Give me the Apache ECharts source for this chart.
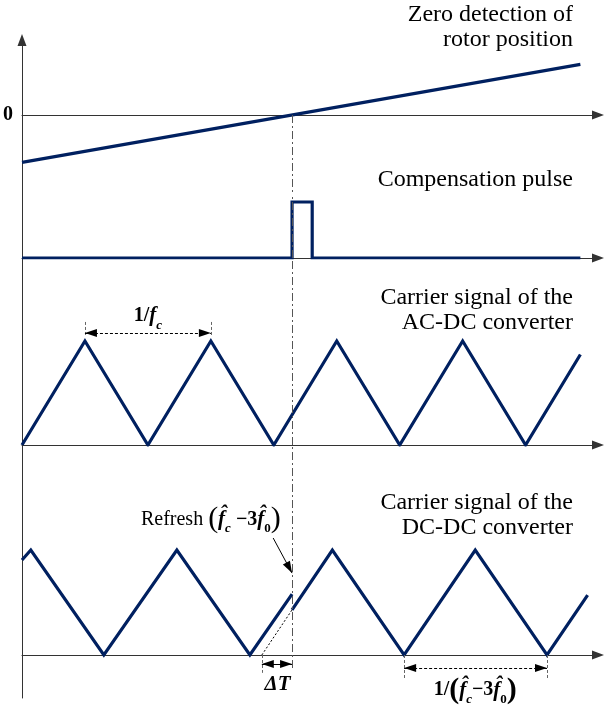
<!DOCTYPE html>
<html>
<head>
<meta charset="utf-8">
<script src="https://cdn.jsdelivr.net/npm/echarts@6/dist/echarts.min.js"></script>
<style>
  html, body { margin: 0; padding: 0; background: #fff; }
  #chart { width: 616px; height: 707px; }
</style>
</head>
<body>
<div id="chart"></div>
<script>
// time unit = half a period of the AC-DC carrier
var tMax = 9.15;
var tRefresh = 4.29;   // zero crossing of the rotor position

// zero detection of rotor position (ramp)
var rampT = [0, 8.87];
var rampV = [-1.48, 1.58];

// compensation pulse
var pulseT = [0, 4.29, 4.29, 4.61, 4.61, 8.87];
var pulseV = [0, 0, 1, 1, 0, 0];

// carrier of the AC-DC converter
var acT = [0, 1, 2, 3, 4, 5, 6, 7, 8, 8.87];
var acV = [0, 1, 0, 1, 0, 1, 0, 1, 0, 0.87];

// carrier of the DC-DC converter, before / after refresh
var dcT1 = [0, 0.14, 1.30, 2.46, 3.62, 4.29];
var dcV1 = [0.905, 1, 0, 1, 0, 0.58];
var dcT2 = [4.29, 4.93, 6.07, 7.20, 8.34, 8.985];
var dcV2 = [0.43, 1, 0, 1, 0, 0.57];

// old carrier continued (dotted)
var dotT = [3.81, 4.29];
var dotV = [0, 0.43];

// dimension arrows
var fcSpan = [1, 3];
var dtSpan = [3.81, 4.29];
var dcSpan = [6.07, 8.34];

var NAVY = '#002060';
var AXIS = '#333';
var SERIF = 'Liberation Serif';

function pairs(t, v) {
    return t.map(function (x, i) { return [x, v[i]]; });
}

var grids = [
    { left: 22, right: 18, top: 40, height: 155 },
    { left: 22, right: 18, top: 195, height: 63 },
    { left: 22, right: 18, top: 258, height: 187 },
    { left: 22, right: 18, top: 445, height: 253 }
];
var yRange = [[-2.5, 2.34375], [0, 1.125], [0, 1.798], [-0.4095, 2.0]];

var xAxes = grids.map(function (g, i) {
    return {
        gridIndex: i, type: 'value', min: 0, max: tMax,
        axisLine: { show: true, onZero: true, symbol: ['none', 'triangle'], symbolSize: [9, 12],
            lineStyle: { color: AXIS, width: 1 } },
        axisTick: { show: false }, axisLabel: { show: false }, splitLine: { show: false }
    };
});
var yAxes = grids.map(function (g, i) {
    var ax = {
        gridIndex: i, type: 'value', min: yRange[i][0], max: yRange[i][1],
        axisLine: { show: true, onZero: false, symbol: i === 0 ? ['none', 'triangle'] : 'none', symbolSize: [9, 12],
            lineStyle: { color: AXIS, width: 1 } },
        axisTick: { show: false }, axisLabel: { show: false }, splitLine: { show: false }
    };
    if (i === 0) {
        ax.interval = 2.5;
        ax.axisLabel = {
            show: true, margin: 9, fontFamily: SERIF, fontWeight: 'bold', fontSize: 20, color: '#000',
            formatter: function (v) { return v === 0 ? '0' : ''; }
        };
    }
    return ax;
});

var dashDotStyle = { color: '#555', width: 1, type: [8, 3, 2, 3] };
var arrowStyle = { color: '#000', width: 1, type: [3, 2] };
var solidStyle = { color: '#000', width: 1, type: 'solid' };
var tickStyle = { color: '#666', width: 1, type: [3, 2] };

function lineSeries(i, data, extra) {
    var s = {
        type: 'line', xAxisIndex: i, yAxisIndex: i, data: data,
        showSymbol: false, symbol: 'none', silent: true, animation: false, z: 3,
        lineStyle: { color: NAVY, width: 3.2, join: 'miter', cap: 'butt' }
    };
    for (var k in extra) s[k] = extra[k];
    return s;
}

function marker(lines) {
    return {
        silent: true, symbol: 'none', animation: false,
        label: { show: false }, emphasis: { disabled: true },
        data: lines
    };
}

// arrow heads are centred on the end point, pull them back so the tip sits on it
function seg(p1, p2, style, s1, s2) {
    var a = { coord: p1, lineStyle: style };
    var b = { coord: p2 };
    if (s1) { a.symbol = s1; a.symbolSize = [8, 12]; a.symbolOffset = [0, 6]; }
    if (s2) { b.symbol = s2; b.symbolSize = [8, 12]; b.symbolOffset = [0, 6]; }
    return [a, b];
}

var hatF = 'f\u0302';
var richBase = {
    n: { fontFamily: SERIF, fontWeight: 'bold', fontSize: 20, color: '#000', lineHeight: 32 },
    r: { fontFamily: SERIF, fontSize: 20, color: '#000', lineHeight: 32 },
    p: { fontFamily: SERIF, fontSize: 30, color: '#000', lineHeight: 32 },
    pb: { fontFamily: SERIF, fontWeight: 'bold', fontSize: 30, color: '#000', lineHeight: 32 },
    f: { fontFamily: SERIF, fontWeight: 'bold', fontStyle: 'italic', fontSize: 21, color: '#000', lineHeight: 32 },
    s: { fontFamily: SERIF, fontWeight: 'bold', fontStyle: 'italic', fontSize: 13, color: '#000',
        lineHeight: 16, verticalAlign: 'bottom' },
    s0: { fontFamily: SERIF, fontWeight: 'bold', fontSize: 13, color: '#000',
        lineHeight: 16, verticalAlign: 'bottom' }
};

function textPoint(coord, text) {
    return {
        coord: coord, symbol: 'rect', symbolSize: 1, itemStyle: { color: 'rgba(0,0,0,0)' },
        label: { show: true, position: 'inside', formatter: text, rich: richBase }
    };
}

var series = [
    lineSeries(0, pairs(rampT, rampV), {
        markLine: marker([seg([tRefresh, 0], [tRefresh, yRange[0][0]], dashDotStyle)])
    }),
    lineSeries(1, pairs(pulseT, pulseV), {
        markLine: marker([seg([tRefresh, 0], [tRefresh, yRange[1][1]], dashDotStyle)])
    }),
    lineSeries(2, pairs(acT, acV), {
        markLine: marker([
            seg([tRefresh, 0], [tRefresh, yRange[2][1]], dashDotStyle),
            seg([fcSpan[0], 1.183], [fcSpan[0], 1.04], tickStyle),
            seg([fcSpan[1], 1.183], [fcSpan[1], 1.04], tickStyle),
            seg([fcSpan[0], 1.077], [fcSpan[1], 1.077], arrowStyle, 'triangle', 'triangle')
        ]),
        markPoint: {
            silent: true, animation: false,
            data: [textPoint([2, 1.24], '{n|1/}{f|f}{s|c}')]
        }
    }),
    lineSeries(3, pairs(dcT1, dcV1), {
        markLine: marker([
            seg([tRefresh, -0.124], [tRefresh, yRange[3][1]], dashDotStyle),
            seg([dotT[0], dotV[0]], [dotT[1], dotV[1]], { color: '#000', width: 1, type: [2, 2] }),
            seg([dtSpan[0], 0], [dtSpan[0], -0.17], tickStyle),
            seg([dtSpan[0], -0.086], [dtSpan[1], -0.086], solidStyle, 'triangle', 'triangle'),
            seg([dcSpan[0], 0], [dcSpan[0], -0.22], tickStyle),
            seg([dcSpan[1], 0], [dcSpan[1], -0.22], tickStyle),
            seg([dcSpan[0], -0.124], [dcSpan[1], -0.124], arrowStyle, 'triangle', 'triangle'),
            seg([3.99, 1.114], [tRefresh, 0.78], solidStyle, null, 'triangle')
        ]),
        markPoint: {
            silent: true, animation: false,
            data: [
                textPoint([4.06, -0.286], '{f|\u0394T}'),
                textPoint([7.2, -0.335], '{n|1/}{pb|(}{f|' + hatF + '}{s|c}{n|\u22123}{f|' + hatF + '}{s0|0}{pb|)}'),
                textPoint([3.0, 1.29], '{r|Refresh }{p|(}{f|' + hatF + '}{s|c}{n| \u22123}{f|' + hatF + '}{s0|0}{p|)}')
            ]
        }
    }),
    lineSeries(3, pairs(dcT2, dcV2), {})
];

var titleStyle = { fontFamily: SERIF, fontWeight: 'normal', fontSize: 24, color: '#000', lineHeight: 25 };
function label(text, top) {
    return { text: text, left: 573, top: top, padding: 0, textAlign: 'right', textStyle: titleStyle };
}

var chart = echarts.init(document.getElementById('chart'), null, { renderer: 'canvas' });
chart.setOption({
    animation: false,
    backgroundColor: '#fff',
    title: [
        label('Zero detection of\nrotor position', 2),
        label('Compensation pulse', 167),
        label('Carrier signal of the\nAC-DC converter', 285),
        label('Carrier signal of the\nDC-DC converter', 490)
    ],
    grid: grids,
    xAxis: xAxes,
    yAxis: yAxes,
    series: series
});
</script>
</body>
</html>
